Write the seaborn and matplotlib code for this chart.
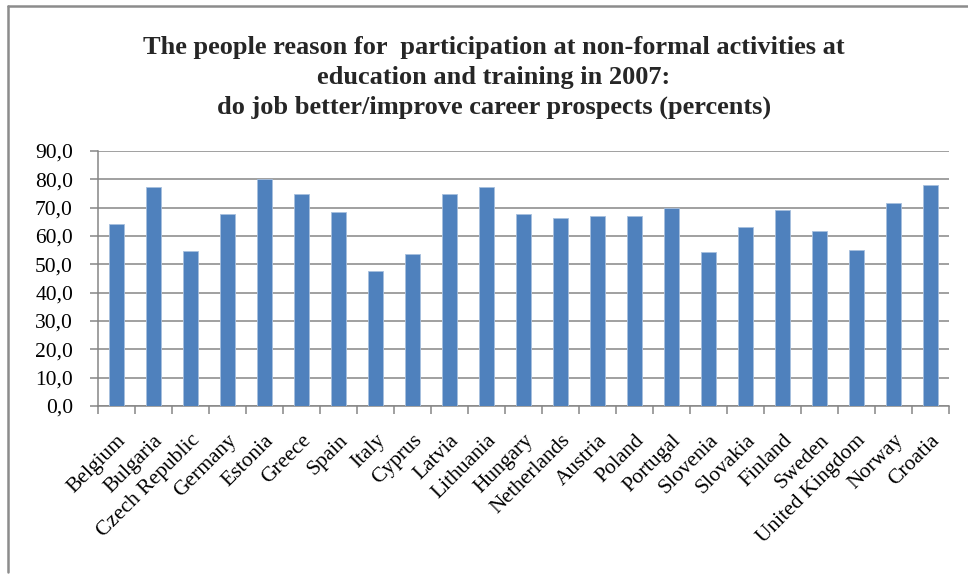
import matplotlib
matplotlib.use("Agg")
import matplotlib.pyplot as plt
import seaborn as sns
import pandas as pd
from matplotlib.ticker import FuncFormatter, FixedLocator
from matplotlib.lines import Line2D

countries = ["Belgium", "Bulgaria", "Czech Republic", "Germany", "Estonia", "Greece",
             "Spain", "Italy", "Cyprus", "Latvia", "Lithuania", "Hungary", "Netherlands",
             "Austria", "Poland", "Portugal", "Slovenia", "Slovakia", "Finland", "Sweden",
             "United Kingdom", "Norway", "Croatia"]
values = [64.2, 77.2, 54.6, 67.9, 80.0, 74.7, 68.4, 47.5, 53.5, 74.7, 77.4, 67.6, 66.4,
          66.9, 66.9, 69.9, 54.4, 63.1, 69.1, 61.6, 54.9, 71.8, 78.1]
yticks = [0, 10, 20, 30, 40, 50, 60, 70, 80, 90]
title_lines = ["The people reason for  participation at non-formal activities at",
               "education and training in 2007:",
               "do job better/improve career prospects (percents)"]

df = pd.DataFrame({"country": countries, "value": values})

sns.set_theme(style="white")
plt.rcParams["font.family"] = ["Liberation Serif", "DejaVu Serif"]

W, H = 968, 575
fig = plt.figure(figsize=(W / 100, H / 100), dpi=100)
ax = fig.add_axes([98 / W, 1 - 406 / H, (949 - 98) / W, (406 - 151) / H])

sns.barplot(data=df, x="country", y="value", color="#4F81BD", saturation=1,
            width=0.42, ax=ax, edgecolor="#A7BFDE", linewidth=0.6, zorder=3)

grid_c = "#868686"
ax.set_ylim(0, 90)
ax.set_xlim(-0.5, len(countries) - 0.5)
ax.yaxis.set_major_locator(FixedLocator(yticks))
ax.yaxis.set_major_formatter(FuncFormatter(lambda v, p: f"{v:.1f}".replace(".", ",")))
ax.grid(axis="y", color=grid_c, linewidth=1.1, zorder=0)
ax.set_axisbelow(True)
ax.set_xlabel("")
ax.set_ylabel("")

for s in ["top", "right"]:
    ax.spines[s].set_visible(False)
for s in ["left", "bottom"]:
    ax.spines[s].set_color(grid_c)
    ax.spines[s].set_linewidth(1.1)

ax.tick_params(axis="y", which="major", left=True, length=6, width=1.1, color=grid_c,
               labelsize=15.5, pad=12, labelcolor="black")
ax.tick_params(axis="x", which="major", bottom=False, labelsize=15.5, pad=12,
               labelcolor="black")
ax.set_xticks(range(len(countries)))
ax.set_xticklabels(countries, rotation=45, ha="right", rotation_mode="anchor")
ax.xaxis.set_minor_locator(FixedLocator([i - 0.5 for i in range(len(countries) + 1)]))
ax.tick_params(axis="x", which="minor", bottom=True, length=6, width=1.1, color=grid_c)

for i, line in enumerate(title_lines):
    fig.text(494 / W, 1 - (45 + 30 * i) / H, line, ha="center", va="center_baseline",
             fontsize=19, fontweight="bold")

# outer chart frame (cropped)
fig.add_artist(Line2D([8 / W, 1.0], [1 - 5.5 / H, 1 - 5.5 / H], transform=fig.transFigure,
                      color="#8C8C8C", linewidth=1.8))
fig.add_artist(Line2D([8 / W, 8 / W], [1 - 5.5 / H, 1 - 572 / H], transform=fig.transFigure,
                      color="#8C8C8C", linewidth=1.8))

fig.savefig("out.png", dpi=100)
